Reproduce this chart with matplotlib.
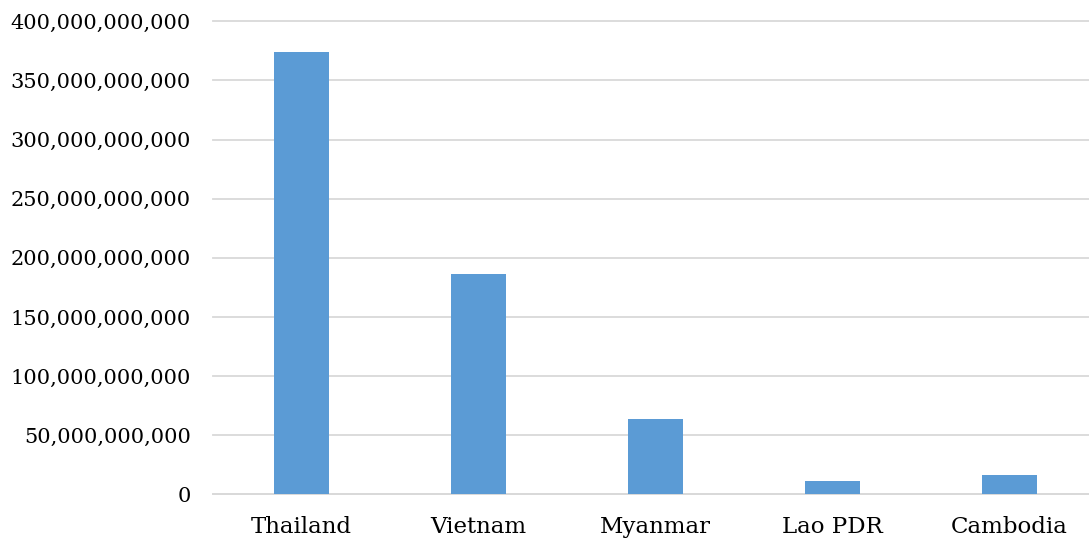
import matplotlib
matplotlib.use('Agg')
import matplotlib.pyplot as plt
from matplotlib.ticker import FuncFormatter, MultipleLocator

# values
countries = ['Thailand', 'Vietnam', 'Myanmar', 'Lao PDR', 'Cambodia']
values = [374e9, 186.4e9, 63.8e9, 11.3e9, 16.1e9]

plt.rcParams['font.family'] = 'DejaVu Serif'

fig = plt.figure(figsize=(10.89, 5.38), dpi=100)
ax = fig.add_axes([213 / 1089, 1 - 494.3 / 538, (1098 - 213) / 1089, (494.3 - 21.3) / 538])

ax.bar(range(len(countries)), values, width=0.316, color='#5B9BD5', zorder=3)

ax.set_xlim(-0.5, len(countries) - 0.5)
ax.set_ylim(0, 400e9)
ax.yaxis.set_major_locator(MultipleLocator(50e9))
ax.yaxis.set_major_formatter(FuncFormatter(lambda v, p: f'{v:,.0f}'))
ax.set_xticks(range(len(countries)))
ax.set_xticklabels(countries)

ax.grid(axis='y', color='#D9D9D9', linewidth=1.3, zorder=0)
for gl in ax.get_ygridlines():
    gl.set_clip_on(False)
for s in ['top', 'right', 'left']:
    ax.spines[s].set_visible(False)
ax.spines['bottom'].set_color('#D9D9D9')
ax.spines['bottom'].set_linewidth(1.3)
ax.tick_params(axis='both', length=0, colors='black')
ax.tick_params(axis='y', pad=16, labelsize=15)
ax.tick_params(axis='x', pad=15.5, labelsize=16.5)

fig.savefig('out.png', dpi=100)
